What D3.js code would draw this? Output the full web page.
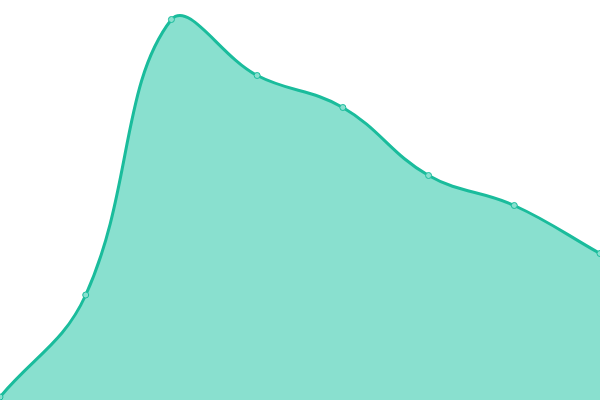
<!DOCTYPE html>
<html>
<head>
<meta charset="utf-8">
<script src="https://cdn.jsdelivr.net/npm/d3@7"></script>
<style>
  body { margin: 0; background: #fff; }
</style>
</head>
<body>
<div id="chart"></div>
<script>
var width = 600;
var height = 400;

var labels = [0, 1, 2, 3, 4, 5, 6, 7];
var values = [3, 105, 380.5, 324.5, 292.5, 224.5, 194.5, 146.5];

var svg = d3.select("#chart")
            .append("svg")
            .attr("width", width)
            .attr("height", height);

var x = d3.scaleLinear()
    .domain([0, labels.length - 1])
    .range([0, width]);

var y = d3.scaleLinear()
    .domain([0, 400])
    .range([height, 0]);

// spline with distance-weighted control points (tension 0.4),
// control points kept inside the plot area
function SmoothCurve(context) { this._context = context; }
SmoothCurve.prototype = {
    areaStart: function() { this._line = 0; },
    areaEnd: function() { this._line = NaN; },
    lineStart: function() { this._pts = []; },
    point: function(px, py) { this._pts.push([+px, +py]); },
    lineEnd: function() {
        var p = this._pts, n = p.length, c = this._context, t = 0.4;
        if (!n) return;
        if (this._line) c.lineTo(p[0][0], p[0][1]);
        else c.moveTo(p[0][0], p[0][1]);
        var cps = p.map(function(cur, i) {
            var prev = p[i - 1] || cur, next = p[i + 1] || cur;
            var d01 = Math.hypot(cur[0] - prev[0], cur[1] - prev[1]);
            var d12 = Math.hypot(next[0] - cur[0], next[1] - cur[1]);
            var s01 = d01 / (d01 + d12) || 0, s12 = d12 / (d01 + d12) || 0;
            var dx = next[0] - prev[0], dy = next[1] - prev[1];
            function cap(q) {
                return [Math.max(0, Math.min(width, q[0])), Math.max(0, Math.min(height, q[1]))];
            }
            return {
                before: cap([cur[0] - t * s01 * dx, cur[1] - t * s01 * dy]),
                after: cap([cur[0] + t * s12 * dx, cur[1] + t * s12 * dy])
            };
        });
        for (var i = 1; i < n; i++) {
            c.bezierCurveTo(cps[i - 1].after[0], cps[i - 1].after[1],
                            cps[i].before[0], cps[i].before[1],
                            p[i][0], p[i][1]);
        }
        if (this._line || (this._line !== 0 && n === 1)) c.closePath();
        this._line = 1 - this._line;
    }
};
function smooth(context) { return new SmoothCurve(context); }

var area = d3.area()
    .x(function(d, i) { return x(labels[i]); })
    .y0(height)
    .y1(function(d) { return y(d); })
    .curve(smooth);

var line = d3.line()
    .x(function(d, i) { return x(labels[i]); })
    .y(function(d) { return y(d); })
    .curve(smooth);

svg.append("path")
    .datum(values)
    .attr("d", area)
    .attr("fill", "#89e0cf");

svg.append("path")
    .datum(values)
    .attr("d", line)
    .attr("fill", "none")
    .attr("stroke", "#1abc9c")
    .attr("stroke-width", 3);

svg.selectAll("circle")
    .data(values)
    .enter()
    .append("circle")
    .attr("cx", function(d, i) { return x(labels[i]); })
    .attr("cy", function(d) { return y(d); })
    .attr("r", 3)
    .attr("fill", "#89e0cf")
    .attr("stroke", "#1abc9c")
    .attr("stroke-width", 1);
</script>
</body>
</html>
